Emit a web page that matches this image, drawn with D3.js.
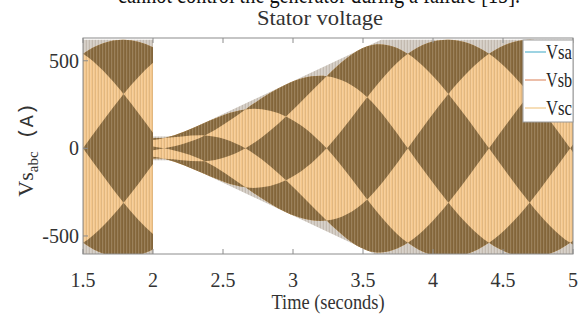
<!DOCTYPE html>
<html>
<head>
<meta charset="utf-8">
<script src="https://cdn.jsdelivr.net/npm/d3@7"></script>
<style>
  body { margin: 0; background: #fff; }
  svg { display: block; font-family: "Liberation Serif", "Times New Roman", serif; }
</style>
</head>
<body>
<div id="chart"></div>
<script>
const xTicks = [1.5, 2, 2.5, 3, 3.5, 4, 4.5, 5];
const yTicks = [-500, 0, 500];
const phaseNames = ['Vsa', 'Vsb', 'Vsc'];
const phaseColors = ['#7cc4d8', '#e6a98c', '#f3d3a0'];

// times where the beat curves cross each other
const nodeTimes = [1.21, 1.50, 1.79, 2.08, 2.37, 2.66, 2.95, 3.24, 3.53, 3.82, 4.11, 4.40, 4.69, 4.98, 5.27];
// level of a curve at successive nodes, relative to the envelope
const nodeLevels = [1, 0.87, 0.5, 0, -0.5, -0.87, -1, -0.87, -0.5, 0, 0.5, 0.87];

// envelope before the fault (t < 2 s)
const envTimesA = [1.2, 2.4];
const envValuesA = [620, 620];
// envelope after the fault (t > 2 s)
const envTimesB = [1.2, 2.16, 3.63, 5.3];
const envValuesB = [68, 68, 620, 620];

const width = 584, height = 322;
const plot = {left: 83, right: 573, top: 38, bottom: 254};

const svg = d3.select('#chart').append('svg')
    .attr('width', width)
    .attr('height', height);

const x = d3.scaleLinear().domain([1.5, 5]).range([plot.left, plot.right]);
const y = d3.scaleLinear().domain([-603, 630]).range([plot.bottom, plot.top]);

const defs = svg.append('defs');

// stripe texture from the dense vertical lines
const pat = defs.append('pattern')
    .attr('id', 'stripes')
    .attr('patternUnits', 'userSpaceOnUse')
    .attr('width', 3).attr('height', 10);
pat.append('rect').attr('x', 0).attr('width', 1).attr('height', 10)
    .attr('fill', '#ffffff').attr('opacity', 0.14);
pat.append('rect').attr('x', 2).attr('width', 1).attr('height', 10)
    .attr('fill', '#3a2a10').attr('opacity', 0.1);

defs.append('clipPath').attr('id', 'clip-plot')
  .append('rect')
    .attr('x', plot.left).attr('y', plot.top)
    .attr('width', plot.right - plot.left).attr('height', plot.bottom - plot.top);

const segments = [
  {id: 'a', from: 1.5, to: 2, times: envTimesA, values: envValuesA},
  {id: 'b', from: 2, to: 5, times: envTimesB, values: envValuesB}
];

const floorY = plot.bottom + 400;
const ceilY = plot.top - 400;

const dataLayer = svg.append('g').attr('clip-path', 'url(#clip-plot)');

segments.forEach(seg => {
  const env = d3.scaleLinear().domain(seg.times).range(seg.values);

  defs.append('clipPath').attr('id', 'clip-' + seg.id)
    .append('rect')
      .attr('x', x(seg.from)).attr('y', ceilY)
      .attr('width', x(seg.to) - x(seg.from)).attr('height', floorY - ceilY);

  // six beat curves (three phases, each with its mirror)
  const curves = d3.range(6).map(k => nodeTimes.map((t, i) => {
    const j = ((i - 2 + 2 * k) % 12 + 12) % 12;
    return [t, env(t) * nodeLevels[j]];
  }));

  const below = d3.area().curve(d3.curveNatural)
      .x(d => x(d[0])).y0(floorY).y1(d => y(d[1]));
  const above = d3.area().curve(d3.curveNatural)
      .x(d => x(d[0])).y0(ceilY).y1(d => y(d[1]));

  const belowPath = curves.map(c => below(c)).join(' ');

  const aboveClip = defs.append('clipPath').attr('id', 'above-' + seg.id);
  curves.forEach(c => aboveClip.append('path').attr('d', above(c)));

  const g = dataLayer.append('g').attr('clip-path', `url(#clip-${seg.id})`);

  // faint outer fringe up to the full envelope
  const fringe = d3.area()
      .x(d => x(d[0]))
      .y0(d => y(-d[1]))
      .y1(d => y(d[1]));
  const envPts = seg.times.map((t, i) => [t, seg.values[i]]);
  g.append('path').attr('d', fringe(envPts)).attr('fill', '#d2cbc2');

  // light orange between the outermost curves
  g.append('g').attr('clip-path', `url(#above-${seg.id})`)
    .append('path')
      .attr('d', belowPath)
      .attr('fill', '#f4c78c');

  // dark checkerboard cells
  g.append('path')
      .attr('d', belowPath)
      .attr('fill-rule', 'evenodd')
      .attr('fill', '#8a6c40');

  g.append('path').attr('d', fringe(envPts)).attr('fill', 'url(#stripes)');
});

// axes box and ticks
const axisColor = '#8c8c8c';
svg.append('rect')
    .attr('x', plot.left).attr('y', plot.top)
    .attr('width', plot.right - plot.left).attr('height', plot.bottom - plot.top)
    .attr('fill', 'none').attr('stroke', axisColor).attr('stroke-width', 1);

svg.append('g').selectAll('line').data(xTicks).join('line')
    .attr('x1', d => x(d)).attr('x2', d => x(d))
    .attr('y1', plot.bottom).attr('y2', plot.bottom - 5)
    .attr('stroke', axisColor);
svg.append('g').selectAll('line').data(xTicks).join('line')
    .attr('x1', d => x(d)).attr('x2', d => x(d))
    .attr('y1', plot.top).attr('y2', plot.top + 5)
    .attr('stroke', axisColor);
svg.append('g').selectAll('line').data(yTicks).join('line')
    .attr('x1', plot.left).attr('x2', plot.left + 5)
    .attr('y1', d => y(d)).attr('y2', d => y(d))
    .attr('stroke', axisColor);

svg.append('g').selectAll('text').data(xTicks).join('text')
    .attr('x', d => x(d)).attr('y', 287)
    .attr('text-anchor', 'middle')
    .attr('font-size', 20).attr('fill', '#333')
    .text(d => d);
svg.append('g').selectAll('text').data(yTicks).join('text')
    .attr('x', plot.left - 4).attr('y', d => y(d) + 7)
    .attr('text-anchor', 'end')
    .attr('font-size', 20).attr('fill', '#333')
    .text(d => d);

// labels
svg.append('text')
    .attr('x', 320).attr('y', 25)
    .attr('text-anchor', 'middle')
    .attr('font-size', 21).attr('fill', '#333')
    .attr('textLength', 126).attr('lengthAdjust', 'spacingAndGlyphs')
    .text('Stator voltage');

svg.append('text')
    .attr('x', 328).attr('y', 309)
    .attr('text-anchor', 'middle')
    .attr('font-size', 20).attr('fill', '#333')
    .attr('textLength', 113).attr('lengthAdjust', 'spacingAndGlyphs')
    .text('Time (seconds)');

// tail of the paper's preceding sentence, cut by the top edge
svg.append('text')
    .attr('x', 118).attr('y', 3)
    .attr('font-size', 26).attr('fill', '#111')
    .attr('textLength', 402).attr('lengthAdjust', 'spacingAndGlyphs')
    .text('cannot control the generator during a failure [15].');

const ylab = svg.append('text')
    .attr('transform', 'translate(33,150) rotate(-90)')
    .attr('text-anchor', 'middle')
    .attr('font-size', 22).attr('fill', '#333');
ylab.append('tspan').text('Vs');
ylab.append('tspan').attr('font-size', 15).attr('dy', 5).text('abc');
ylab.append('tspan').attr('dy', -5).attr('font-family', '"Liberation Mono", monospace')
    .attr('font-size', 20).text(' (A)');

// legend
const leg = svg.append('g');
leg.append('rect')
    .attr('x', 523).attr('y', 40).attr('width', 50).attr('height', 82)
    .attr('fill', '#fff').attr('stroke', '#9a9a9a');
const rows = leg.selectAll('g').data(phaseNames).join('g')
    .attr('transform', (d, i) => `translate(0,${52 + i * 28})`);
rows.append('line')
    .attr('x1', 525).attr('x2', 546)
    .attr('stroke', (d, i) => phaseColors[i]).attr('stroke-width', 1.5);
rows.append('text')
    .attr('x', 546).attr('y', 7)
    .attr('font-size', 22).attr('fill', '#222')
    .attr('textLength', 26).attr('lengthAdjust', 'spacingAndGlyphs')
    .text(d => d);
</script>
</body>
</html>
